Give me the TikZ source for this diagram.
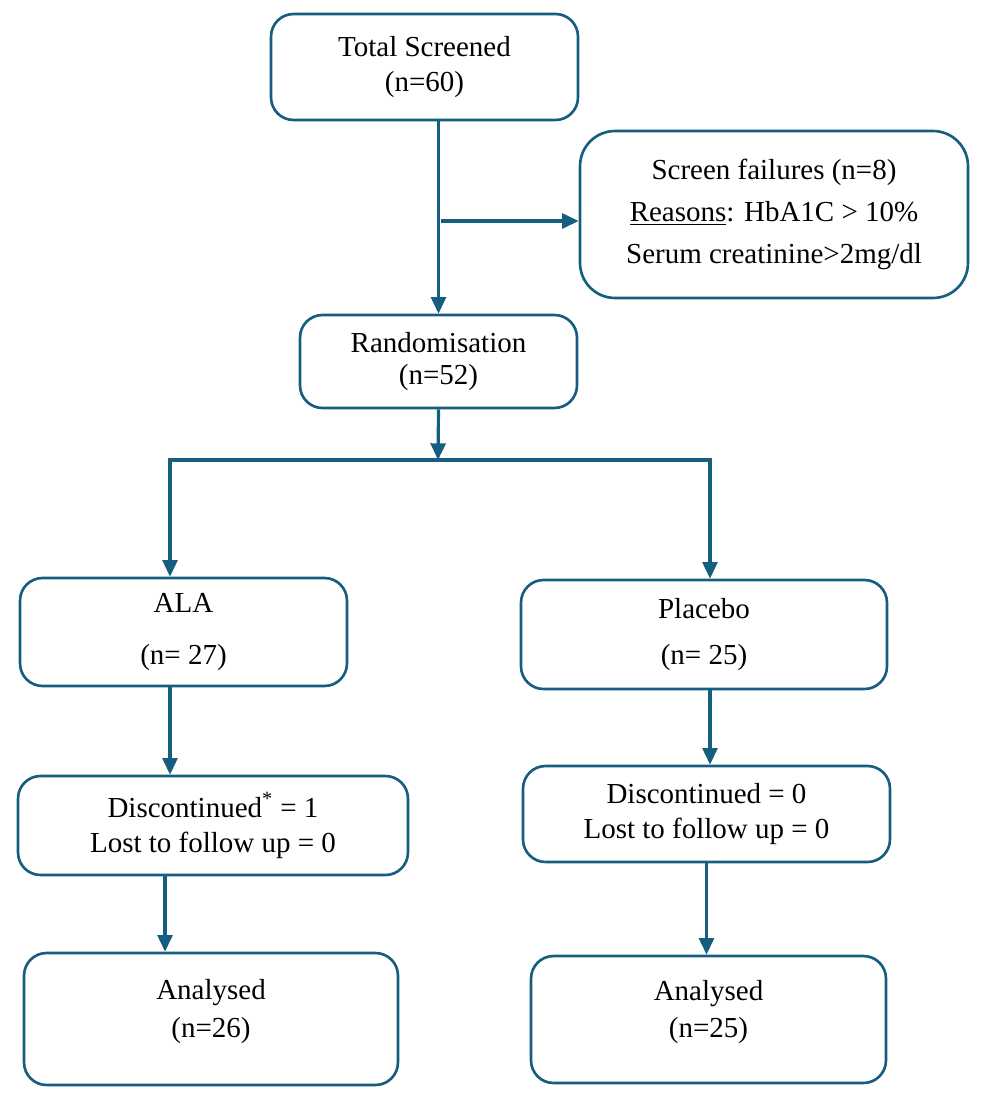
\documentclass[tikz,border=0pt]{standalone}
\usepackage{fontspec}
\setmainfont{Liberation Serif}
\usetikzlibrary{arrows.meta}
\definecolor{flowblue}{RGB}{22,94,128}
\tikzset{
	flowbox/.style={draw=flowblue, line width=1.5pt, rounded corners=0.45cm, align=center, inner sep=0pt, font=\fontsize{16.5}{20}\selectfont},
	flowarrow/.style={draw=flowblue, line width=1.8pt, -{Triangle[length=9.5pt,width=8.5pt]}},
	flowfork/.style={draw=flowblue, line width=1.8pt, {Triangle[length=9.5pt,width=8.5pt]}-{Triangle[length=9.5pt,width=8.5pt]}}
}
\begin{document}
\begin{tikzpicture}[x=0.02cm, y=-0.02cm]
		%%%%% START %%%%%
		\useasboundingbox (0, 0) rectangle (986, 1108);
		
		\node[flowbox, minimum width=6.14cm, minimum height=2.12cm] (total) at (424.5, 67) {Total Screened\\(n=60)};
		\node[flowbox, minimum width=7.76cm, minimum height=3.34cm, rounded corners=0.7cm] (fail) at (774, 214.5) {Screen failures (n=8)\\[4pt]\underline{Reasons}: HbA1C > 10\%\\[4pt]Serum creatinine>2mg/dl};
		\node[flowbox, minimum width=5.54cm, minimum height=1.86cm] (rand) at (438.5, 361.5) {Randomisation\\[-2pt](n=52)};
		
		\node[flowbox, minimum width=6.54cm, minimum height=2.16cm] (ala) at (183.5, 632) {ALA\\[10pt](n= 27)};
		\node[flowbox, minimum width=7.32cm, minimum height=2.18cm] (placebo) at (704, 634.5) {Placebo\\[6.5pt](n= 25)};
		
		\node[flowbox, minimum width=7.80cm, minimum height=1.98cm] (discL) at (213, 825.5) {Discontinued\textsuperscript{*} = 1\\Lost to follow up = 0};
		\node[flowbox, minimum width=7.34cm, minimum height=1.92cm] (discR) at (706.5, 814) {Discontinued = 0\\Lost to follow up = 0};
		
		\node[flowbox, minimum width=7.48cm, minimum height=2.64cm, text depth=12pt] (anaL) at (211, 1019) {Analysed\\[1.5pt](n=26)};
		\node[flowbox, minimum width=7.10cm, minimum height=2.54cm, text depth=12pt] (anaR) at (708.5, 1019.5) {Analysed\\[1.5pt](n=25)};
		
		% screening and exclusion
		\coordinate (split) at (441, 221);
		\coordinate (fork) at (438, 460);
		\draw[flowarrow] (total.south -| rand.north) -- (rand.north);
		\draw[flowarrow] (split) -- (split -| fail.west);
		
		% allocation
		\draw[flowarrow] (rand.south) -- (fork);
		\draw[flowfork] ([xshift=-0.27cm]ala.north) |- (fork) -| ([xshift=0.12cm]placebo.north);
		
		% follow up and analysis
		\draw[flowarrow] ([xshift=-0.27cm]ala.south) -- ([xshift=-0.27cm]ala.south |- discL.north);
		\draw[flowarrow] ([xshift=0.12cm]placebo.south) -- ([xshift=0.12cm]placebo.south |- discR.north);
		\draw[flowarrow] ([xshift=-0.96cm]discL.south) -- ([xshift=-0.96cm]discL.south |- anaL.north);
		\draw[flowarrow] (discR.south) -- (discR.south |- anaR.north);
		
		%%%%% END %%%%%
	\end{tikzpicture}
\end{document}
